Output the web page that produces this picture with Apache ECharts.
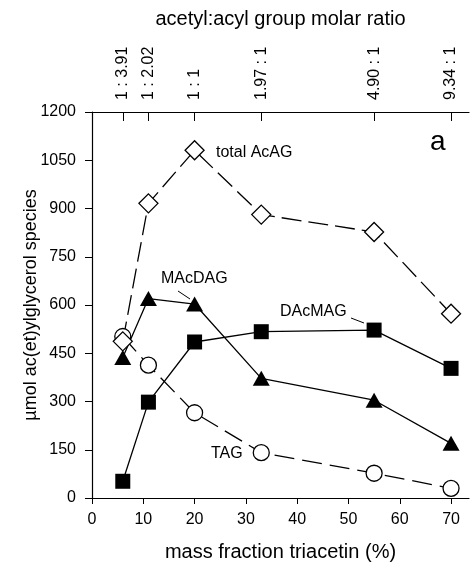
<!DOCTYPE html>
<html>
<head>
    <meta charset="utf-8">
    <script src="https://cdn.jsdelivr.net/npm/echarts@6/dist/echarts.min.js"></script>
</head>
<body style="margin:0">

    <div id="main" style="width:470px;height:570px;"></div>

<script type="text/javascript">
// mass fraction triacetin (%)
var xPct = [6, 11, 20, 33, 55, 70];
var ratioLabels = ['1 : 3.91', '1 : 2.02', '1 : 1', '1.97 : 1', '4.90 : 1', '9.34 : 1'];
var xTicks = [0, 10, 20, 30, 40, 50, 60, 70];

var totalAcAG = [487, 916, 1081, 881, 827, 573];
var macdag = [437, 620, 603, 372, 304, 170];
var dacmag = [52, 298, 485, 517, 522, 403];
var tag = [502, 413, 265, 141, 77, 30];

function pairs(ys) {
    return xPct.map(function (x, i) { return [x, ys[i]]; });
}

var font = 'Liberation Sans';
var black = '#000';

var myChart = echarts.init(document.getElementById('main'));

myChart.setOption({
    animation: false,
    textStyle: { fontFamily: font, color: black },
    grid: { left: 92, right: 1, top: 112, bottom: 72 },
    xAxis: [
        {
            type: 'value',
            position: 'bottom',
            min: 0,
            max: 73.5,
            name: 'mass fraction triacetin (%)',
            nameLocation: 'middle',
            nameGap: 44,
            nameMoveOverlap: false,
            nameTextStyle: { fontSize: 20, color: black, fontFamily: font },
            axisLine: { lineStyle: { color: black, width: 1.2 } },
            axisTick: { customValues: xTicks, length: 6, lineStyle: { color: black } },
            axisLabel: { customValues: xTicks, fontSize: 16, color: black, margin: 14 },
            splitLine: { show: false }
        },
        {
            type: 'value',
            position: 'top',
            min: 0,
            max: 73.5,
            name: 'acetyl:acyl group molar ratio',
            nameLocation: 'middle',
            nameGap: 83,
            nameMoveOverlap: false,
            nameTextStyle: { fontSize: 20, color: black, fontFamily: font },
            axisLine: { lineStyle: { color: black, width: 1.2 } },
            axisTick: { customValues: xPct, inside: true, length: 9, lineStyle: { color: black } },
            axisLabel: {
                customValues: xPct,
                rotate: -90,
                fontSize: 16,
                color: black,
                margin: 12,
                formatter: function (v) { return ratioLabels[xPct.indexOf(v)]; }
            },
            splitLine: { show: false }
        }
    ],
    yAxis: {
        type: 'value',
        min: 0,
        max: 1200,
        interval: 150,
        name: 'µmol ac(et)ylglycerol species',
        nameLocation: 'middle',
        nameGap: 52,
        nameMoveOverlap: false,
        nameTextStyle: { fontSize: 18, color: black, fontFamily: font },
        axisLine: { show: true, lineStyle: { color: black, width: 1.2 } },
        axisTick: { show: true, length: 7, lineStyle: { color: black } },
        axisLabel: {
            fontSize: 16,
            color: black,
            margin: 16,
            formatter: function (v) { return String(v); }
        },
        splitLine: { show: false }
    },
    series: [
        {
            name: 'DAcMAG',
            type: 'line',
            data: pairs(dacmag),
            symbol: 'rect',
            symbolSize: 15,
            itemStyle: { color: black },
            lineStyle: { color: black, width: 1.3 }
        },
        {
            name: 'MAcDAG',
            type: 'line',
            data: pairs(macdag),
            symbol: 'triangle',
            symbolSize: [17, 15],
            itemStyle: { color: black },
            lineStyle: { color: black, width: 1.3 }
        },
        {
            name: 'TAG',
            type: 'line',
            data: pairs(tag),
            symbol: 'circle',
            symbolSize: 16,
            showAllSymbol: true,
            itemStyle: { color: '#fff', borderColor: black, borderWidth: 1.3 },
            lineStyle: { color: black, width: 1.3, type: [20, 8] }
        },
        {
            name: 'total AcAG',
            type: 'line',
            data: pairs(totalAcAG),
            symbol: 'diamond',
            symbolSize: [19, 19],
            itemStyle: { color: '#fff', borderColor: black, borderWidth: 1.3 },
            lineStyle: { color: black, width: 1.3, type: [20, 7] }
        }
    ],
    graphic: [
        { type: 'text', left: 216, top: 145, style: { text: 'total AcAG', font: '16px "Liberation Sans"', fill: black } },
        { type: 'text', left: 161, top: 271, style: { text: 'MAcDAG', font: '16px "Liberation Sans"', fill: black } },
        { type: 'line', shape: { x1: 178, y1: 291, x2: 190, y2: 299 }, style: { stroke: black, lineWidth: 1 } },
        { type: 'text', left: 280, top: 304, style: { text: 'DAcMAG', font: '16px "Liberation Sans"', fill: black } },
        { type: 'line', shape: { x1: 351, y1: 318, x2: 364, y2: 323 }, style: { stroke: black, lineWidth: 1 } },
        { type: 'text', left: 211, top: 446, style: { text: 'TAG', font: '16px "Liberation Sans"', fill: black } },
        { type: 'text', left: 430, top: 128, style: { text: 'a', font: '28px "Liberation Sans"', fill: black } }
    ]
});
</script>

</body>
</html>
